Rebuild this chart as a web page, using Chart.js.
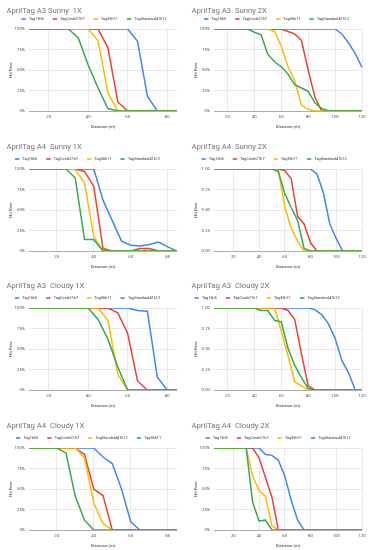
<!DOCTYPE html>
<html>
<head>
<meta charset="utf-8">
<script src="https://cdn.jsdelivr.net/npm/chart.js@4/dist/chart.umd.min.js"></script>
<style>
  body { margin: 0; background: #fff; overflow: hidden; }
  #page { position: relative; width: 371px; height: 550px; overflow: hidden; }
  #page canvas { position: absolute; }
</style>
</head>
<body>
<div id="page"></div>
<script>
// series names, in legend order
const tagNames = ['Tag16h5', 'TagCircle21h7', 'Tag36h11', 'TagStandard41h12'];
const tagNamesA4Cloudy1X = ['Tag16h5', 'TagCircle21h7', 'TagStandard41h12', 'Tag36h11'];

// tick labels
const xTicks1X = [20, 40, 60, 80];
const xTicks2X = [20, 40, 60, 80, 100, 120];
const yTicksPercent = ['0%', '25%', '50%', '75%', '100%'];
const yTicksDecimal = ['0.00', '0.25', '0.50', '0.75', '1.00'];

// distances (m)
const dist10to85 = [10, 15, 20, 25, 30, 35, 40, 45, 50, 55, 60, 65, 70, 75, 80, 85];
const dist10to120 = [10, 15, 20, 25, 30, 35, 40, 45, 50, 55, 60, 65, 70, 75, 80, 85, 90, 95, 100, 105, 110, 115, 120];
const dist5to85 = [5, 10, 15, 20, 25, 30, 35, 40, 45, 50, 55, 60, 65, 70, 75, 80, 85];
const dist5to120 = [5, 10, 15, 20, 25, 30, 35, 40, 45, 50, 55, 60, 65, 70, 75, 80, 85, 90, 95, 100, 105, 110, 115, 120];

// AprilTag A3 Sunny 1X
const a3Sunny1X16h5 = [1, 1, 1, 1, 1, 1, 1, 1, 1, 1, 1, 0.85, 0.18, 0, 0, 0];
const a3Sunny1XCircle = [1, 1, 1, 1, 1, 1, 1, 1, 0.77, 0.11, 0, 0, 0, 0, 0, 0];
const a3Sunny1X36h11 = [1, 1, 1, 1, 1, 1, 1, 0.86, 0.22, 0, 0, 0, 0, 0, 0, 0];
const a3Sunny1XStd = [1, 1, 1, 1, 1, 0.89, 0.56, 0.28, 0.03, 0, 0, 0, 0, 0, 0, 0];

// AprilTag A3 Sunny 2X
const a3Sunny2X16h5 = [1, 1, 1, 1, 1, 1, 1, 1, 1, 1, 1, 1, 1, 1, 1, 1, 1, 1, 1, 0.94, 0.83, 0.70, 0.53];
const a3Sunny2XCircle = [1, 1, 1, 1, 1, 1, 1, 1, 1, 1, 1, 0.97, 0.94, 0.86, 0.50, 0.17, 0, 0, 0, 0, 0, 0, 0];
const a3Sunny2X36h11 = [1, 1, 1, 1, 1, 1, 1, 1, 1, 0.97, 0.79, 0.54, 0.37, 0.07, 0.02, 0, 0, 0, 0, 0, 0, 0, 0];
const a3Sunny2XStd = [1, 1, 1, 1, 1, 1, 0.96, 0.93, 0.69, 0.60, 0.54, 0.45, 0.32, 0.28, 0.24, 0.10, 0.03, 0, 0, 0, 0, 0, 0];

// AprilTag A4 Sunny 1X
const a4Sunny1X16h5 = [1, 1, 1, 1, 1, 1, 1, 1, 0.62, 0.37, 0.12, 0.07, 0.06, 0.08, 0.11, 0.05, 0];
const a4Sunny1XCircle = [1, 1, 1, 1, 1, 1, 0.97, 0.79, 0.03, 0, 0, 0, 0.03, 0.03, 0, 0, 0];
const a4Sunny1X36h11 = [1, 1, 1, 1, 1, 0.99, 0.83, 0.18, 0, 0, 0, 0, 0, 0, 0, 0, 0];
const a4Sunny1XStd = [1, 1, 1, 1, 1, 0.89, 0.14, 0.14, 0, 0, 0, 0, 0, 0, 0, 0, 0];

// AprilTag A4 Sunny 2X
const a4Sunny2X16h5 = [1, 1, 1, 1, 1, 1, 1, 1, 1, 1, 1, 1, 1, 1, 1, 1, 0.94, 0.71, 0.33, 0.15, 0, 0, 0, 0];
const a4Sunny2XCircle = [1, 1, 1, 1, 1, 1, 1, 1, 1, 1, 1, 0.98, 0.88, 0.42, 0.33, 0.10, 0, 0, 0, 0, 0, 0, 0, 0];
const a4Sunny2X36h11 = [1, 1, 1, 1, 1, 1, 1, 1, 1, 1, 0.98, 0.54, 0.28, 0.12, 0, 0, 0, 0, 0, 0, 0, 0, 0, 0];
const a4Sunny2XStd = [1, 1, 1, 1, 1, 1, 1, 1, 1, 1, 0.97, 0.70, 0.53, 0.37, 0.03, 0, 0, 0, 0, 0, 0, 0, 0, 0];

// AprilTag A3 Cloudy 1X
const a3Cloudy1X16h5 = [1, 1, 1, 1, 1, 1, 1, 1, 1, 1, 1, 0.97, 0.96, 0.16, 0, 0];
const a3Cloudy1XCircle = [1, 1, 1, 1, 1, 1, 1, 1, 1, 0.94, 0.69, 0.11, 0, 0, 0, 0];
const a3Cloudy1X36h11 = [1, 1, 1, 1, 1, 1, 1, 1, 0.85, 0.19, 0, 0, 0, 0, 0, 0];
const a3Cloudy1XStd = [1, 1, 1, 1, 1, 1, 1, 0.86, 0.62, 0.28, 0, 0, 0, 0, 0, 0];

// AprilTag A3 Cloudy 2X
const a3Cloudy2X16h5 = [1, 1, 1, 1, 1, 1, 1, 1, 1, 1, 1, 1, 1, 1, 1, 0.98, 0.92, 0.81, 0.63, 0.36, 0.21, 0, 0];
const a3Cloudy2XCircle = [1, 1, 1, 1, 1, 1, 1, 1, 1, 1, 1, 0.97, 0.86, 0.44, 0.05, 0, 0, 0, 0, 0, 0, 0, 0];
const a3Cloudy2X36h11 = [1, 1, 1, 1, 1, 1, 1, 1, 1, 1, 0.72, 0.42, 0.10, 0.05, 0, 0, 0, 0, 0, 0, 0, 0, 0];
const a3Cloudy2XStd = [1, 1, 1, 1, 1, 1, 1, 0.97, 0.97, 0.85, 0.83, 0.51, 0.30, 0.15, 0.02, 0, 0, 0, 0, 0, 0, 0, 0];

// AprilTag A4 Cloudy 1X (legend order differs)
const a4Cloudy1X16h5 = [1, 1, 1, 1, 1, 1, 1, 1, 0.89, 0.81, 0.50, 0.10, 0, 0, 0, 0, 0];
const a4Cloudy1XCircle = [1, 1, 1, 1, 1, 1, 0.92, 0.50, 0.42, 0, 0, 0, 0, 0, 0, 0, 0];
const a4Cloudy1XStd = [1, 1, 1, 1, 1, 1, 0.88, 0.33, 0.08, 0, 0, 0, 0, 0, 0, 0, 0];
const a4Cloudy1X36h11 = [1, 1, 1, 1, 0.94, 0.41, 0.12, 0, 0, 0, 0, 0, 0, 0, 0, 0, 0];

// AprilTag A4 Cloudy 2X
const a4Cloudy2X16h5 = [1, 1, 1, 1, 1, 1, 1, 1, 0.92, 0.91, 0.85, 0.66, 0.36, 0.12, 0, 0, 0, 0, 0, 0, 0, 0, 0, 0];
const a4Cloudy2XCircle = [1, 1, 1, 1, 1, 1, 1, 0.88, 0.64, 0.40, 0, 0, 0, 0, 0, 0, 0, 0, 0, 0, 0, 0, 0, 0];
const a4Cloudy2X36h11 = [1, 1, 1, 1, 1, 1, 0.66, 0.48, 0.41, 0.05, 0, 0, 0, 0, 0, 0, 0, 0, 0, 0, 0, 0, 0, 0];
const a4Cloudy2XStd = [1, 1, 1, 1, 1, 1, 0.34, 0.11, 0.12, 0, 0, 0, 0, 0, 0, 0, 0, 0, 0, 0, 0, 0, 0, 0];

const lineColors = ['#4285F4', '#EA4335', '#FBBC04', '#34A853'];
const FONT = 'Roboto';

// title + legend, drawn like the sheets export
const headerPlugin = {
  id: 'header',
  afterDraw(chart, args, opts) {
    const ctx = chart.ctx;
    ctx.save();
    ctx.textBaseline = 'middle';
    ctx.font = '7.7px ' + FONT;
    ctx.fillStyle = '#757575';
    ctx.fillText(opts.title, 6.5, opts.titleY);
    ctx.font = '3.8px ' + FONT;
    let x = opts.legendX;
    chart.data.datasets.forEach(ds => {
      ctx.fillStyle = ds.borderColor;
      ctx.fillRect(x, opts.legendY - 0.8, 4.3, 1.6);
      ctx.fillStyle = '#333';
      ctx.fillText(ds.label, x + 7.5, opts.legendY);
      x += 7.5 + ctx.measureText(ds.label).width + 9;
    });
    ctx.restore();
  }
};

function makeChart(p) {
  const col = p.col, plotTop = [29, 169, 308, 448][p.row];
  const canvas = document.createElement('canvas');
  canvas.width = col ? 186 : 185;
  canvas.height = 137;
  canvas.style.left = (col ? 185 : 0) + 'px';
  canvas.style.top = (plotTop - 30) + 'px';
  document.getElementById('page').appendChild(canvas);

  const datasets = p.series.map((vals, i) => ({
    label: p.names[i],
    data: p.dist.map((d, j) => ({x: d, y: vals[j]})),
    borderColor: lineColors[i],
    backgroundColor: lineColors[i],
    borderWidth: 1.5,
    pointRadius: 0,
    tension: 0,
    order: 3 - i
  }));

  new Chart(canvas, {
    type: 'line',
    data: {datasets: datasets},
    plugins: [headerPlugin],
    options: {
      responsive: false,
      animation: false,
      layout: {padding: {top: 30, left: 0, right: col ? 9 : 8, bottom: 2}},
      plugins: {
        legend: {display: false},
        tooltip: {enabled: false},
        header: {
          title: p.title,
          titleY: p.row === 0 ? 12.5 : 8.5,
          legendY: 20,
          legendX: p.legendX
        }
      },
      scales: {
        x: {
          type: 'linear',
          min: p.dist[0],
          max: p.dist[p.dist.length - 1],
          afterBuildTicks: s => { s.ticks = p.xTicks.map(v => ({value: v})); },
          afterFit: s => { s.height = 23; },
          border: {display: false},
          grid: {color: '#e3e3e3', lineWidth: 0.8, drawTicks: false},
          ticks: {padding: 3, color: '#555', font: {family: FONT, size: 4.3}, maxRotation: 0},
          title: {display: true, text: 'Distance (m)', color: '#333', font: {family: FONT, size: 4.3}, padding: {top: 0, bottom: 4}}
        },
        y: {
          min: 0,
          max: 1,
          afterBuildTicks: s => { s.ticks = p.yTicks.map((t, i) => ({value: i * 0.25})); },
          afterFit: s => { s.width = 29; },
          border: {display: false},
          grid: {
            drawTicks: false,
            lineWidth: 0.8,
            color: c => (c.tick && c.tick.value === 0 ? '#999' : '#e3e3e3')
          },
          ticks: {
            padding: 4,
            color: '#555',
            font: {family: FONT, size: 4.3},
            callback: (v, i) => p.yTicks[i]
          },
          title: {display: true, text: 'Hit Rate', color: '#333', font: {family: FONT, size: 4.3}, padding: {top: 8, bottom: 0}}
        }
      }
    }
  });
}

makeChart({row: 0, col: 0, title: 'AprilTag A3 Sunny  1X', legendX: 21.5, dist: dist10to85, xTicks: xTicks1X, yTicks: yTicksPercent,
  names: tagNames, series: [a3Sunny1X16h5, a3Sunny1XCircle, a3Sunny1X36h11, a3Sunny1XStd]});
makeChart({row: 0, col: 1, title: 'AprilTag A3  Sunny 2X', legendX: 19, dist: dist10to120, xTicks: xTicks2X, yTicks: yTicksPercent,
  names: tagNames, series: [a3Sunny2X16h5, a3Sunny2XCircle, a3Sunny2X36h11, a3Sunny2XStd]});
makeChart({row: 1, col: 0, title: 'AprilTag A4  Sunny 1X', legendX: 15, dist: dist5to85, xTicks: xTicks1X, yTicks: yTicksPercent,
  names: tagNames, series: [a4Sunny1X16h5, a4Sunny1XCircle, a4Sunny1X36h11, a4Sunny1XStd]});
makeChart({row: 1, col: 1, title: 'AprilTag A4  Sunny 2X', legendX: 16.5, dist: dist5to120, xTicks: xTicks2X, yTicks: yTicksDecimal,
  names: tagNames, series: [a4Sunny2X16h5, a4Sunny2XCircle, a4Sunny2X36h11, a4Sunny2XStd]});
makeChart({row: 2, col: 0, title: 'AprilTag A3  Cloudy 1X', legendX: 15, dist: dist10to85, xTicks: xTicks1X, yTicks: yTicksPercent,
  names: tagNames, series: [a3Cloudy1X16h5, a3Cloudy1XCircle, a3Cloudy1X36h11, a3Cloudy1XStd]});
makeChart({row: 2, col: 1, title: 'AprilTag A3  Cloudy 2X', legendX: 9.5, dist: dist10to120, xTicks: xTicks2X, yTicks: yTicksDecimal,
  names: tagNames, series: [a3Cloudy2X16h5, a3Cloudy2XCircle, a3Cloudy2X36h11, a3Cloudy2XStd]});
makeChart({row: 3, col: 0, title: 'AprilTag A4  Cloudy 1X', legendX: 16, dist: dist5to85, xTicks: xTicks1X, yTicks: yTicksPercent,
  names: tagNamesA4Cloudy1X, series: [a4Cloudy1X16h5, a4Cloudy1XCircle, a4Cloudy1XStd, a4Cloudy1X36h11]});
makeChart({row: 3, col: 1, title: 'AprilTag A4  Cloudy 2X', legendX: 20.5, dist: dist5to120, xTicks: xTicks2X, yTicks: yTicksPercent,
  names: tagNames, series: [a4Cloudy2X16h5, a4Cloudy2XCircle, a4Cloudy2X36h11, a4Cloudy2XStd]});
</script>
</body>
</html>
